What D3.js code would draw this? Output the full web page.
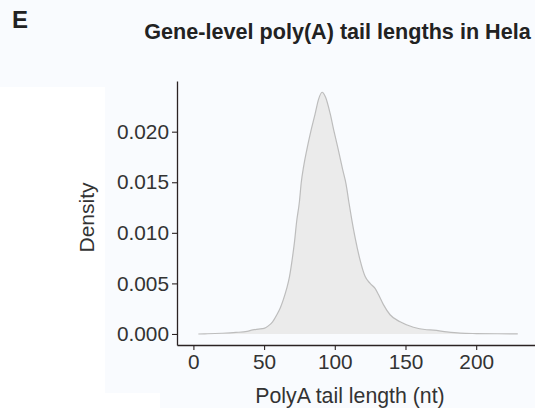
<!DOCTYPE html>
<html>
<head>
<meta charset="utf-8">
<script src="https://cdn.jsdelivr.net/npm/d3@7/dist/d3.min.js"></script>
<style>
  html, body { margin: 0; padding: 0; background: #f9fbfe; }
  svg { display: block; }
</style>
</head>
<body>
<svg id="chart" width="535" height="408"></svg>
<script>
// Gene-level poly(A) tail length density (HeLa)
const tailLength = [3.5, 10, 20, 30, 38, 42, 46, 50, 53, 56, 59, 61.5, 63.6, 66, 68, 70, 71.5, 73, 75, 76.3,
  78, 80.2, 83, 86, 88.5, 91, 93.5, 96.7, 99.5, 102.5, 105.5, 108, 110, 112, 114.4, 117.9, 121.4, 125,
  128.5, 130.9, 134.4, 139.1, 146.2, 155.6, 165, 169.7, 179.2, 188.6, 200, 215, 229.4];
const density = [0, 0.00002, 0.00007, 0.00015, 0.00026, 0.0004, 0.00048, 0.00056, 0.0008, 0.0012, 0.0019,
  0.0026, 0.0034, 0.0045, 0.0057, 0.0075, 0.0091, 0.0111, 0.0131, 0.0150, 0.0166, 0.0182, 0.0200, 0.0217,
  0.0232, 0.0239, 0.0234, 0.0218, 0.0200, 0.0182, 0.0163, 0.0148, 0.0130, 0.0113, 0.0095, 0.0073, 0.0057,
  0.0050, 0.0045, 0.0039, 0.0029, 0.0019, 0.0012, 0.00066, 0.00042, 0.00038, 0.0002, 0.00008, 0.00004,
  0.00002, 0.00001];
const xTicks = [0, 50, 100, 150, 200];
const yTicks = [0, 0.005, 0.010, 0.015, 0.020];

const panelLabel = "E";
const title = "Gene-level poly(A) tail lengths in Hela";
const xTitle = "PolyA tail length (nt)";
const yTitle = "Density";

const data = tailLength.map((v, i) => ({ x: v, y: density[i] }));

const svg = d3.select("#chart");
const font = "'Liberation Sans', Arial, Helvetica, sans-serif";
const axisColor = "#2b2323";
const textColor = "#333333";

// soft panel backdrop
svg.append("rect").attr("x", 0).attr("y", 87).attr("width", 105).attr("height", 321).attr("fill", "#ffffff");
svg.append("rect").attr("x", 105).attr("y", 393).attr("width", 55).attr("height", 15).attr("fill", "#ffffff");

const x = d3.scaleLinear().domain([-11.6, 241.6]).range([177, 535]);
const y = d3.scaleLinear().domain([-0.00109, 0.02501]).range([345, 81]);

// density fill and upper outline
const area = d3.area()
  .x(d => x(d.x)).y0(y(0)).y1(d => y(d.y))
  .curve(d3.curveMonotoneX);
const line = d3.line()
  .x(d => x(d.x)).y(d => y(d.y))
  .curve(d3.curveMonotoneX);

svg.append("path").datum(data).attr("d", area).attr("fill", "#ebebeb");
svg.append("path").datum(data).attr("d", line)
  .attr("fill", "none").attr("stroke", "#bdbdbd").attr("stroke-width", 1.2);

// axes
const xAxis = d3.axisBottom(x).tickValues(xTicks).tickSize(5).tickPadding(4).tickSizeOuter(0);
const yAxis = d3.axisLeft(y).tickValues(yTicks).tickSize(5).tickPadding(3).tickSizeOuter(0)
  .tickFormat(d3.format(".3f"));

const gx = svg.append("g").attr("transform", `translate(0,${y.range()[0]})`).call(xAxis);
const gy = svg.append("g").attr("transform", `translate(${x.range()[0]},0)`).call(yAxis);

[gx, gy].forEach(g => {
  g.select(".domain").attr("stroke", axisColor).attr("stroke-width", 1.3);
  g.selectAll(".tick line").attr("stroke", axisColor).attr("stroke-width", 1.1);
  g.selectAll(".tick text").attr("fill", textColor).style("font-family", font).style("font-size", "20.8px");
});

// titles
svg.append("text").attr("x", 12).attr("y", 28)
  .style("font-family", font).style("font-size", "24px").style("font-weight", "bold")
  .attr("fill", "#222").text(panelLabel);

svg.append("text").attr("x", 337.5).attr("y", 38.5).attr("text-anchor", "middle")
  .style("font-family", font).style("font-size", "21.6px").style("font-weight", "bold")
  .attr("fill", "#222").text(title);

svg.append("text").attr("x", 350).attr("y", 402.5).attr("text-anchor", "middle")
  .style("font-family", font).style("font-size", "21.3px")
  .attr("fill", textColor).text(xTitle);

svg.append("text").attr("transform", "translate(94,217.5) rotate(-90)").attr("text-anchor", "middle")
  .style("font-family", font).style("font-size", "21px")
  .attr("fill", textColor).text(yTitle);
</script>
</body>
</html>
